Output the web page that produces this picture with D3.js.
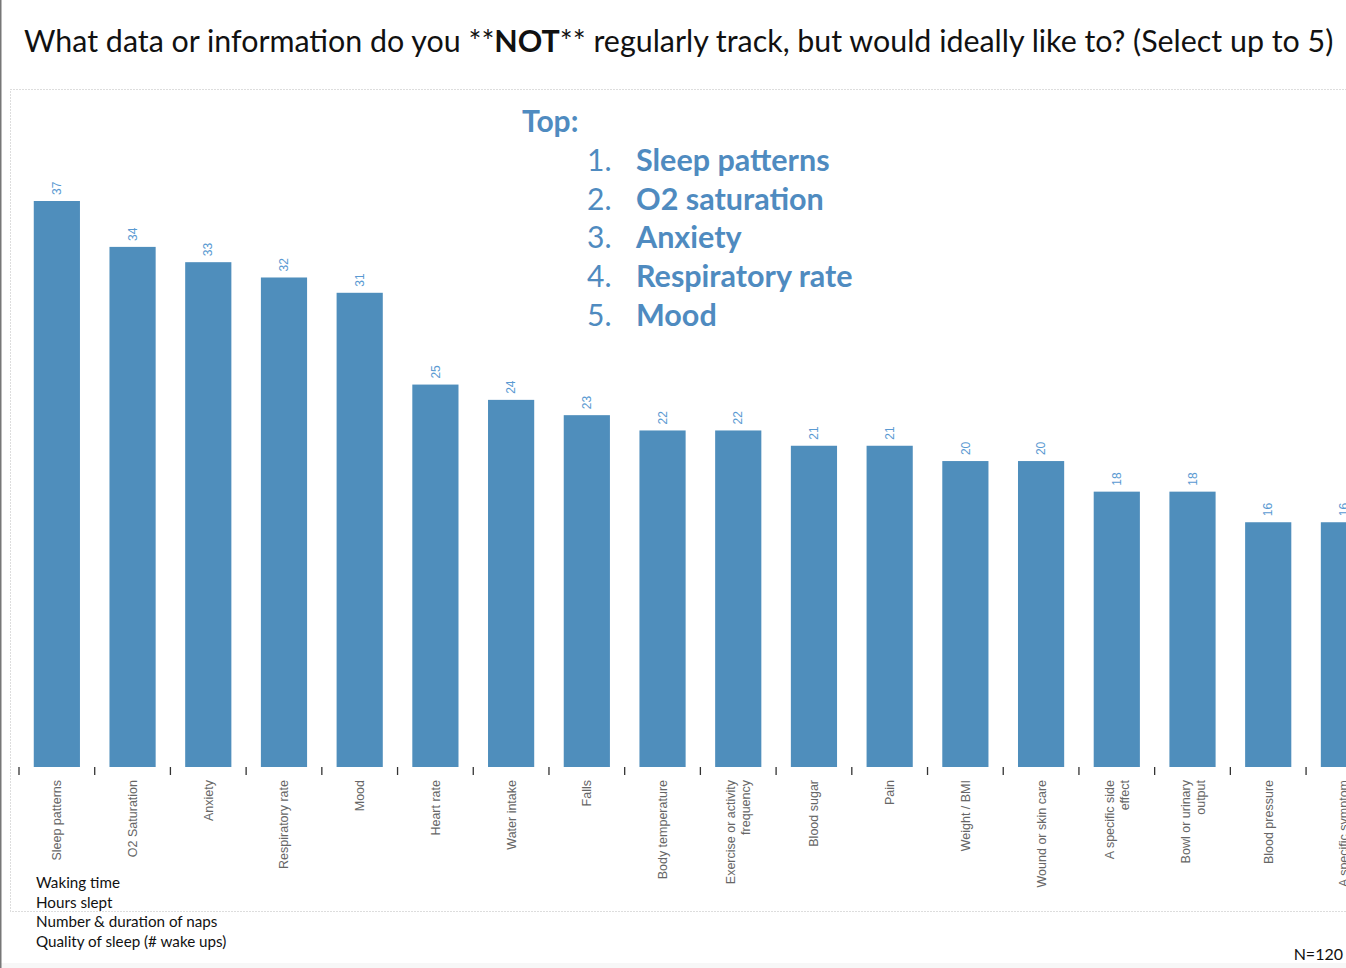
<!DOCTYPE html>
<html>
<head>
<meta charset="utf-8">
<script src="https://cdn.jsdelivr.net/npm/d3@7"></script>
<style>
  body { margin: 0; background: #fff; }
  svg { display: block; }
</style>
</head>
<body>
<svg id="chart" width="1346" height="968"></svg>
<script>
// categories, left to right
var categories = [
  "Sleep patterns", "O2 Saturation", "Anxiety", "Respiratory rate", "Mood",
  "Heart rate", "Water intake", "Falls", "Body temperature",
  "Exercise or activity|frequency", "Blood sugar", "Pain", "Weight / BMI",
  "Wound or skin care", "A specific side|effect", "Bowl or urinary|output",
  "Blood pressure", "A specific symptom"
];
var counts = [37, 34, 33, 32, 31, 25, 24, 23, 22, 22, 21, 21, 20, 20, 18, 18, 16, 16];

var topItems = ["Sleep patterns", "O2 saturation", "Anxiety", "Respiratory rate", "Mood"];
var sleepNotes = ["Waking time", "Hours slept", "Number & duration of naps", "Quality of sleep (# wake ups)"];

var barColor = "#4f8ebc",
    blueText = "#4f8bc0",
    valueColor = "#5a9ad2";

var svg = d3.select("#chart");

// page bits
svg.append("rect").attr("x", 0).attr("y", 963).attr("width", 1346).attr("height", 5).attr("fill", "#f7f7f7");
svg.append("rect").attr("x", 0).attr("y", 0).attr("width", 1.5).attr("height", 968).attr("fill", "#777");

// dotted frame round the chart
svg.append("rect")
    .attr("x", 10.5).attr("y", 89.5)
    .attr("width", 1350).attr("height", 822)
    .attr("fill", "none")
    .attr("stroke", "#bbb")
    .attr("stroke-dasharray", "1,2");

// title
var title = svg.append("text")
    .attr("x", 24).attr("y", 52)
    .attr("font-family", "Lato, sans-serif")
    .attr("font-size", 30.4)
    .attr("fill", "#111");
title.append("tspan").text("What data or information do you **");
title.append("tspan").attr("font-weight", "bold").text("NOT");
title.append("tspan").text("** regularly track, but would ideally like to? (Select up to 5)");

// scales
var step = 75.71;
var x = d3.scaleBand()
    .domain(categories)
    .range([19, 19 + step * categories.length])
    .paddingInner(0.39)
    .paddingOuter(0.195);

var y = d3.scaleLinear()
    .domain([0, 37])
    .range([767, 201]);

// bars
svg.selectAll(".bar")
    .data(counts)
  .enter().append("rect")
    .attr("class", "bar")
    .attr("x", function(d, i) { return x(categories[i]); })
    .attr("y", function(d) { return y(d); })
    .attr("width", x.bandwidth())
    .attr("height", function(d) { return y(0) - y(d); })
    .attr("fill", barColor);

// value labels, rotated
svg.selectAll(".val")
    .data(counts)
  .enter().append("text")
    .attr("class", "val")
    .attr("transform", function(d, i) {
      var cx = x(categories[i]) + x.bandwidth() / 2;
      return "translate(" + cx + "," + (y(d) - 6) + ") rotate(-90)";
    })
    .attr("dy", "0.35em")
    .attr("font-family", "Liberation Sans, Arial, sans-serif")
    .attr("font-size", 12)
    .attr("fill", valueColor)
    .text(function(d) { return d; });

// ticks sit between the bands
var gap = x.step() * x.paddingInner();
svg.selectAll(".tick")
    .data(categories)
  .enter().append("line")
    .attr("class", "tick")
    .attr("x1", function(d) { return x(d) - gap / 2; })
    .attr("x2", function(d) { return x(d) - gap / 2; })
    .attr("y1", y(0))
    .attr("y2", y(0) + 8)
    .attr("stroke", "#333")
    .attr("stroke-width", 1.3);

// category labels, rotated, up to two lines
var lab = svg.selectAll(".lab")
    .data(categories)
  .enter().append("text")
    .attr("class", "lab")
    .attr("transform", function(d) {
      return "translate(" + (x(d) + x.bandwidth() / 2) + ",780) rotate(-90)";
    })
    .attr("text-anchor", "end")
    .attr("font-family", "Liberation Sans, Arial, sans-serif")
    .attr("font-size", 12.5)
    .attr("fill", "#666");

lab.each(function(d) {
  var lines = d.split("|");
  var t = d3.select(this);
  lines.forEach(function(l, j) {
    var off = (j - (lines.length - 1) / 2) * 15 + 4.5;
    t.append("tspan").attr("x", 0).attr("y", off).text(l);
  });
});

// "Top" list
svg.append("text")
    .attr("x", 522).attr("y", 132)
    .attr("font-family", "Lato, sans-serif")
    .attr("font-weight", "bold")
    .attr("font-size", 30)
    .attr("fill", blueText)
    .text("Top:");

var item = svg.selectAll(".top")
    .data(topItems)
  .enter().append("g")
    .attr("class", "top")
    .attr("transform", function(d, i) { return "translate(0," + (171 + i * 38.7) + ")"; });

item.append("text")
    .attr("x", 587)
    .attr("font-family", "Lato, sans-serif")
    .attr("font-size", 30)
    .attr("fill", blueText)
    .text(function(d, i) { return (i + 1) + "."; });

item.append("text")
    .attr("x", 636)
    .attr("font-family", "Lato, sans-serif")
    .attr("font-weight", "bold")
    .attr("font-size", 30.5)
    .attr("fill", blueText)
    .text(function(d) { return d; });

// sleep notes, bottom left
svg.selectAll(".note")
    .data(sleepNotes)
  .enter().append("text")
    .attr("class", "note")
    .attr("x", 36)
    .attr("y", function(d, i) { return 888 + i * 19.7; })
    .attr("font-family", "Lato, sans-serif")
    .attr("font-size", 15.2)
    .attr("fill", "#111")
    .text(function(d) { return d; });

svg.append("text")
    .attr("x", 1343).attr("y", 960)
    .attr("text-anchor", "end")
    .attr("font-family", "Lato, sans-serif")
    .attr("font-size", 16)
    .attr("fill", "#111")
    .text("N=120");
</script>
</body>
</html>
